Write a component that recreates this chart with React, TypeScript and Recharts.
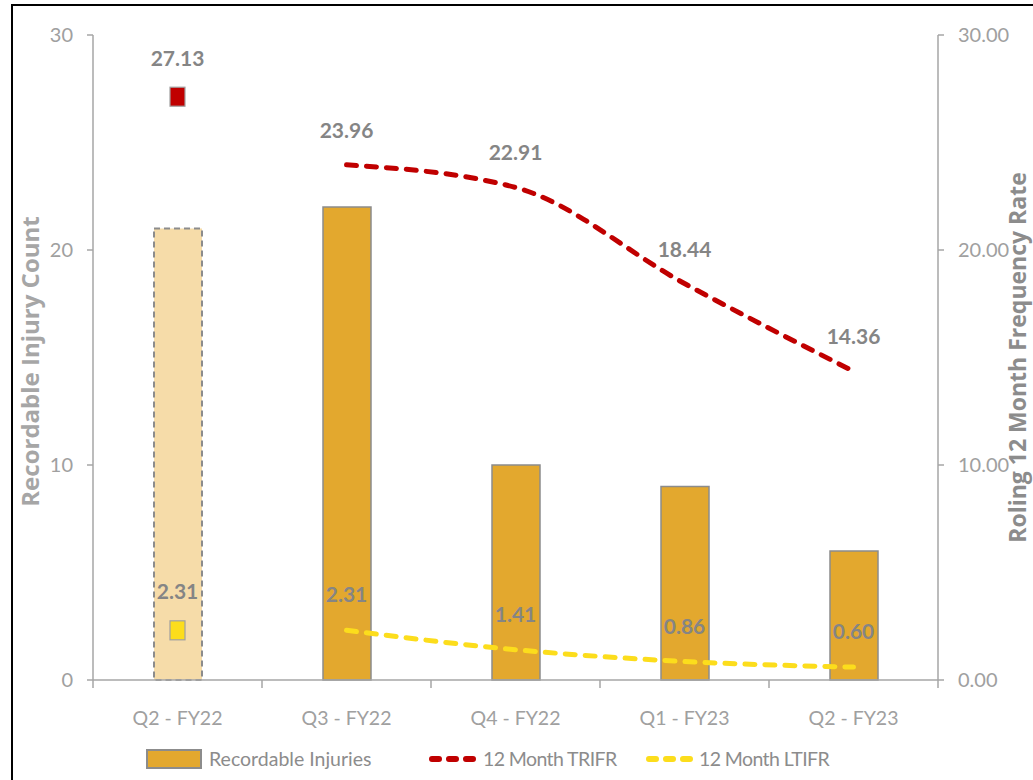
import React from 'react';
import { ComposedChart, Bar, Line, XAxis, YAxis, Cell, LabelList, Legend, Label } from 'recharts';

const categories = ['Q2 - FY22', 'Q3 - FY22', 'Q4 - FY22', 'Q1 - FY23', 'Q2 - FY23'];
const recordableInjuries = [21, 22, 10, 9, 6];
const trifr: (number | null)[] = [null, 23.96, 22.91, 18.44, 14.36];
const trifrPrior: (number | null)[] = [27.13, null, null, null, null];
const ltifr: (number | null)[] = [null, 2.31, 1.41, 0.86, 0.6];
const ltifrPrior: (number | null)[] = [2.31, null, null, null, null];
const leftTicks = [0, 10, 20, 30];
const rightTicks = [0, 10, 20, 30];

const data = categories.map((c, i) => ({
  category: c,
  injuries: recordableInjuries[i],
  trifr: trifr[i],
  trifrPrior: trifrPrior[i],
  ltifr: ltifr[i],
  ltifrPrior: ltifrPrior[i],
}));

const W = 1033;
const H = 780;
const LEFT_W = 93;
const RIGHT_W = 95;
const HALF_BAND = (W - LEFT_W - RIGHT_W) / categories.length / 2;

const FONT = "Lato, 'Liberation Sans', sans-serif";
const TITLE_FONT = "'Open Sans', sans-serif";
const GOLD = '#E3A82E';
const RED = '#C00000';
const YELLOW = '#FCDD1C';
const AXIS = '#A6A6A6';
const TICK = '#A0A0A0';
const LABEL = '#858585';

const fmt = (v: any) => (v == null ? '' : Number(v).toFixed(2));

const XTick = (props: any) => {
  const { x, y, payload, index } = props;
  const last = index === categories.length - 1;
  return (
    <g>
      <line x1={x - HALF_BAND} x2={x - HALF_BAND} y1={y} y2={y + 8} stroke={AXIS} strokeWidth={1.5} />
      {last && <line x1={x + HALF_BAND} x2={x + HALF_BAND} y1={y} y2={y + 8} stroke={AXIS} strokeWidth={1.5} />}
      <text x={x} y={y + 45} textAnchor="middle" fill={TICK} fontSize={19.5} fontFamily={FONT}>
        {payload.value}
      </text>
    </g>
  );
};

const squareDot = (fill: string) => (props: any) => {
  const { cx, cy, index } = props;
  if (cx == null || cy == null || props.value == null) return <g key={`d-${index}`} />;
  return (
    <rect key={`d-${index}`} x={cx - 7.5} y={cy - 9.5} width={15} height={19} fill={fill} stroke="#A0A0A0" strokeWidth={1.2} />
  );
};

const LegendContent = () => (
  <div style={{ position: 'relative', width: W, height: 45, fontFamily: FONT, fontSize: 19.5, color: '#8C8C8C' }}>
    <div style={{ position: 'absolute', left: 146, top: 12, display: 'flex', alignItems: 'center' }}>
      <div style={{ width: 52, height: 16, background: GOLD, border: '2px solid #8C8C8C', marginRight: 7 }} />
      <span>Recordable Injuries</span>
    </div>
    <div style={{ position: 'absolute', left: 429, top: 12, display: 'flex', alignItems: 'center' }}>
      <svg width={48} height={20} style={{ marginRight: 6 }}>
        <line x1={3} x2={45} y1={10} y2={10} stroke={RED} strokeWidth={6} strokeDasharray="7 10" strokeLinecap="round" />
      </svg>
      <span style={{ letterSpacing: -0.6 }}>12 Month TRIFR</span>
    </div>
    <div style={{ position: 'absolute', left: 646, top: 12, display: 'flex', alignItems: 'center' }}>
      <svg width={48} height={20} style={{ marginRight: 5 }}>
        <line x1={3} x2={45} y1={10} y2={10} stroke={YELLOW} strokeWidth={6} strokeDasharray="7 10" strokeLinecap="round" />
      </svg>
      <span style={{ letterSpacing: -0.6 }}>12 Month LTIFR</span>
    </div>
  </div>
);

const LeftTitle = (props: any) => {
  const vb = props.viewBox || {};
  const cx = 39;
  const cy = vb.y + vb.height / 2 + 4;
  return (
    <text x={cx} y={cy} transform={`rotate(-90, ${cx}, ${cy})`} textAnchor="middle" fill="#A6A6A6" fontSize={24} fontWeight="bold" fontFamily={TITLE_FONT}>
      Recordable Injury Count
    </text>
  );
};

const RightTitle = (props: any) => {
  const vb = props.viewBox || {};
  const cx = 1026;
  const cy = vb.y + vb.height / 2;
  return (
    <text x={cx} y={cy} transform={`rotate(-90, ${cx}, ${cy})`} textAnchor="middle" fill="#8C8C8C" fontSize={23} fontWeight="bold" fontFamily={TITLE_FONT}>
      Roling 12 Month Frequency Rate
    </text>
  );
};

export default function App() {
  return (
    <div style={{ position: 'relative', width: W, height: H, overflow: 'hidden', background: '#fff' }}>
      <style>{'body{margin:0}'}</style>
      <div style={{ position: 'absolute', left: 11, top: 4, width: 1200, height: 1000, border: '2px solid #000' }} />
      <div style={{ position: 'absolute', left: 0, top: 0 }}>
        <ComposedChart width={W} height={H} data={data} margin={{ top: 35, right: 0, bottom: 0, left: 0 }} barSize={48}>
          <XAxis dataKey="category" tickLine={false} tickSize={0} tickMargin={0} axisLine={{ stroke: AXIS, strokeWidth: 1.5 }} tick={<XTick />} height={55} interval={0} />
          <YAxis yAxisId="left" orientation="left" domain={[0, 30]} ticks={leftTicks} width={LEFT_W} tickSize={6} tickMargin={14}
            axisLine={{ stroke: AXIS, strokeWidth: 1.5 }} tickLine={{ stroke: AXIS, strokeWidth: 1.5 }}
            tick={{ fill: TICK, fontSize: 20, fontFamily: FONT }}>
            <Label content={<LeftTitle />} />
          </YAxis>
          <YAxis yAxisId="right" orientation="right" domain={[0, 30]} ticks={rightTicks} width={RIGHT_W} tickSize={6} tickMargin={14}
            axisLine={{ stroke: AXIS, strokeWidth: 1.5 }} tickLine={{ stroke: AXIS, strokeWidth: 1.5 }}
            tickFormatter={(v: number) => v.toFixed(2)}
            tick={{ fill: TICK, fontSize: 20, fontFamily: FONT, textAnchor: 'start' }}>
            <Label content={<RightTitle />} />
          </YAxis>
          <Legend verticalAlign="bottom" height={45} content={<LegendContent />} wrapperStyle={{ left: 0, width: W, height: 45 }} />
          <Bar yAxisId="left" dataKey="injuries" name="Recordable Injuries" fill={GOLD} stroke="#8C8C8C" strokeWidth={1.5} isAnimationActive={false}>
            {data.map((d, i) =>
              i === 0 ? (
                <Cell key={i} fill="#F6DCA9" stroke="#8C8C8C" strokeWidth={2} strokeDasharray="6 4" />
              ) : (
                <Cell key={i} fill={GOLD} stroke="#8C8C8C" strokeWidth={1.5} />
              )
            )}
          </Bar>
          <Line yAxisId="right" dataKey="trifr" name="12 Month TRIFR" type="monotone" stroke={RED} strokeWidth={5} strokeDasharray="10 10" strokeLinecap="round" dot={false} activeDot={false} connectNulls={false} isAnimationActive={false}>
            <LabelList dataKey="trifr" position="top" offset={27} formatter={fmt} fill={LABEL} fontSize={21} fontWeight="bold" fontFamily={FONT} />
          </Line>
          <Line yAxisId="right" dataKey="ltifr" name="12 Month LTIFR" type="monotone" stroke={YELLOW} strokeWidth={5} strokeDasharray="10 10" strokeLinecap="round" dot={false} activeDot={false} connectNulls={false} isAnimationActive={false}>
            <LabelList dataKey="ltifr" position="top" offset={28} formatter={fmt} fill={LABEL} fontSize={21} fontWeight="bold" fontFamily={FONT} />
          </Line>
          <Line yAxisId="right" dataKey="trifrPrior" legendType="none" stroke="none" dot={squareDot(RED)} activeDot={false} isAnimationActive={false}>
            <LabelList dataKey="trifrPrior" position="top" offset={31} formatter={fmt} fill={LABEL} fontSize={21} fontWeight="bold" fontFamily={FONT} />
          </Line>
          <Line yAxisId="right" dataKey="ltifrPrior" legendType="none" stroke="none" dot={squareDot(YELLOW)} activeDot={false} isAnimationActive={false}>
            <LabelList dataKey="ltifrPrior" position="top" offset={31} formatter={fmt} fill={LABEL} fontSize={21} fontWeight="bold" fontFamily={FONT} />
          </Line>
        </ComposedChart>
      </div>
    </div>
  );
}
